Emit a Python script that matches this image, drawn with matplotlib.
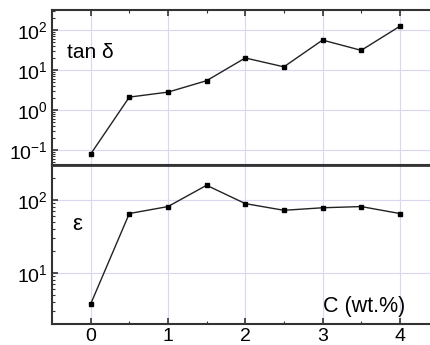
import matplotlib
matplotlib.use("Agg")
import matplotlib.pyplot as plt
from matplotlib.ticker import LogLocator, NullFormatter, FixedLocator

plt.rcParams['font.family'] = ['Liberation Sans', 'DejaVu Sans']
plt.rcParams['mathtext.fontset'] = 'custom'
plt.rcParams['mathtext.rm'] = 'Liberation Sans'
plt.rcParams['mathtext.it'] = 'Liberation Sans:italic'

# --- data ---
conc = [0, 0.5, 1, 1.5, 2, 2.5, 3, 3.5, 4]
tan_delta = [0.079, 2.1, 2.8, 5.4, 20, 12, 56, 31, 124]
epsilon = [3.7, 65, 81, 159, 89, 72, 78, 81, 65]
xticks = [0, 1, 2, 3, 4]

fig = plt.figure(figsize=(4.3, 3.45), dpi=100)
ax1 = fig.add_axes([52/430, 1 - 165/345, 1 - 52/430, 155/345])
ax2 = fig.add_axes([52/430, 1 - 324/345, 1 - 52/430, 159/345], sharex=ax1)

spine_col = "#333333"
grid_col = "#d8d8f0"

for ax in (ax1, ax2):
    ax.set_yscale("log")
    ax.set_xlim(-0.5, 4.39)
    ax.xaxis.set_major_locator(FixedLocator(xticks))
    ax.xaxis.set_minor_locator(FixedLocator([0.5, 1.5, 2.5, 3.5]))
    ax.grid(True, which="major", color=grid_col, lw=0.8)
    ax.set_axisbelow(True)
    ax.spines["right"].set_visible(False)
    for s in ("top", "bottom", "left"):
        ax.spines[s].set_color(spine_col)
        ax.spines[s].set_linewidth(1.5)
    ax.tick_params(which="both", direction="in", color=spine_col, labelsize=14, pad=3)
    ax.tick_params(which="major", length=4, width=1.2)
    ax.tick_params(which="minor", length=2.5, width=0.8)
    ax.yaxis.set_minor_locator(LogLocator(base=10, subs=range(2, 10), numticks=20))
    ax.yaxis.set_minor_formatter(NullFormatter())

# top panel: tan delta
ax1.plot(conc, tan_delta, color="#222222", lw=1.0, marker="s", ms=3.5, mfc="black", mec="black")
ax1.set_ylim(10**-1.375, 10**2.5)
ax1.yaxis.set_major_locator(LogLocator(base=10, numticks=10))
ax1.tick_params(axis="x", which="both", top=True, bottom=False, labelbottom=False)
ax1.text(-0.3, 10**1.45, "tan δ", fontsize=15, va="center", ha="left")

# bottom panel: epsilon
ax2.plot(conc, epsilon, color="#222222", lw=1.0, marker="s", ms=3.5, mfc="black", mec="black")
ax2.set_ylim(1.97, 302)
ax2.yaxis.set_major_locator(LogLocator(base=10, numticks=10))
ax2.tick_params(axis="x", which="both", top=False, bottom=True)
ax2.spines["top"].set_linewidth(2.0)
ax2.text(-0.24, 10**1.66, "ε", fontsize=16, va="center", ha="left")
ax2.text(3.54, 10**0.54, "C (wt.%)", fontsize=15.5, va="center", ha="center")

fig.savefig("out.png", dpi=100)
